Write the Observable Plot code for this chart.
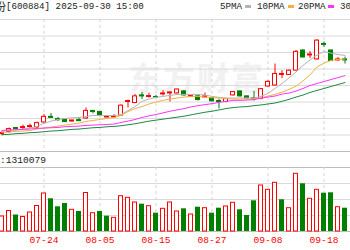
<!DOCTYPE html>
<html><head><meta charset="utf-8">
<script src="https://cdn.jsdelivr.net/npm/d3@7"></script>
<script src="https://cdn.jsdelivr.net/npm/@observablehq/plot@0.6"></script>
<style>
html,body{margin:0;padding:0;background:#fff;overflow:hidden;}
#wrap{position:relative;width:350px;height:250px;overflow:hidden;background:#fff;color:#222;}
.abs{position:absolute;white-space:nowrap;line-height:1;}
.mono{font-family:"Liberation Mono","DejaVu Sans Mono",monospace;font-size:9.2px;}
</style></head><body><div id="wrap"></div>
<script>
const stockName = "杉杉股份";
const stockCode = "600884";
const stamp = "2025-09-30 15:00";
const maNames = ["5PMA", "10PMA", "20PMA", "30PMA"];
const volumeLabel = "成交量";
const lastVolume = 1310079;
const watermark = "东方财富";

const dates = ["07-16","07-17","07-18","07-21","07-22","07-23","07-24","07-25","07-28","07-29","07-30","07-31","08-01","08-04","08-05","08-06","08-07","08-08","08-11","08-12","08-13","08-14","08-15","08-18","08-19","08-20","08-21","08-22","08-25","08-26","08-27","08-28","08-29","09-01","09-02","09-03","09-04","09-05","09-08","09-09","09-10","09-11","09-12","09-15","09-16","09-17","09-18","09-19","09-22","09-23"];
const tickDates = ["07-24","08-05","08-15","08-27","09-08","09-18"];

const open = [12.03,12.09,12.21,12.21,12.24,12.23,12.38,12.55,12.48,12.47, 12.41,12.45,12.50,12.73,12.70,12.53,12.53,12.59,13.00,12.97, 13.20,13.15,13.15,13.23,13.26,13.26,13.32,13.15,13.17,13.14, 13.12,13.03,13.00,13.20,13.32,13.17,13.11,13.09,13.47,13.50, 13.82,13.82,13.95,14.56,14.41,14.29,14.76,14.56,14.26,14.29];
const close = [12.06,12.18,12.18,12.24,12.27,12.36,12.55,12.52,12.45,12.39, 12.44,12.42,12.73,12.70,12.59,12.56,12.56,12.89,13.03,13.17, 13.17,13.18,13.14,13.26,13.29,13.38,13.20,13.18,13.06,13.17, 13.02,13.00,13.09,13.30,13.17,13.11,13.08,13.39,13.61,13.85, 13.85,13.95,14.52,14.35,14.44,14.86,14.73,14.24,14.29,14.26];
const high = [12.11,12.21,12.23,12.30,12.33,12.39,12.62,12.65,12.53,12.48, 12.45,12.53,12.82,12.74,12.71,12.58,12.62,12.91,13.06,13.23, 13.29,13.27,13.20,13.35,13.30,13.39,13.35,13.20,13.20,13.27, 13.14,13.08,13.11,13.32,13.33,13.18,13.32,13.41,13.65,14.15, 13.95,13.97,14.56,14.58,14.53,14.89,14.82,14.58,14.35,14.36];
const low = [11.98,12.06,12.17,12.17,12.20,12.20,12.36,12.50,12.41,12.38, 12.39,12.41,12.48,12.64,12.58,12.52,12.50,12.58,12.82,12.95, 13.08,13.12,13.11,13.18,13.00,13.24,13.18,13.14,13.03,13.12, 13.00,12.79,12.98,13.18,13.15,13.09,13.03,13.08,13.45,13.48, 13.71,13.80,13.94,14.33,14.32,14.27,14.65,14.23,14.24,14.15];

const ma5 = [12.11,12.14,12.15,12.18,12.21,12.26,12.35,12.42,12.47,12.50, 12.52,12.53,12.56,12.59,12.59,12.59,12.59,12.62,12.74,12.86, 13.02,13.09,13.14,13.17,13.20,13.23,13.23,13.23,13.23,13.21, 13.17,13.14,13.12,13.12,13.12,13.12,13.12,13.17,13.26,13.41, 13.56,13.73,13.91,14.11,14.27,14.42,14.53,14.48,14.44,14.41];
const ma10 = [12.08,12.09,12.11,12.12,12.14,12.18,12.21,12.24,12.27,12.30, 12.33,12.36,12.41,12.44,12.47,12.50,12.53,12.59,12.71,12.80, 12.86,12.94,13.00,13.05,13.09,13.12,13.15,13.17,13.17,13.15, 13.13,13.12,13.11,13.09,13.09,13.09,13.10,13.12,13.18,13.23, 13.30,13.38,13.48,13.64,13.82,14.06,14.18,14.26,14.29,14.30];
const ma20 = [12.14,12.15,12.16,12.17,12.18,12.20,12.21,12.22,12.23,12.25, 12.26,12.27,12.29,12.30,12.31,12.32,12.33,12.38,12.42,12.47, 12.53,12.58,12.62,12.67,12.72,12.76,12.80,12.85,12.89,12.92, 12.95,12.99,13.02,13.05,13.05,13.06,13.07,13.12,13.15,13.18, 13.24,13.27,13.33,13.41,13.50,13.56,13.62,13.68,13.74,13.80];
const ma30 = [12.01,12.02,12.04,12.05,12.07,12.08,12.10,12.12,12.13,12.15, 12.17,12.18,12.20,12.22,12.23,12.25,12.26,12.28,12.31,12.34, 12.38,12.42,12.45,12.48,12.51,12.54,12.57,12.61,12.65,12.69, 12.72,12.76,12.80,12.83,12.85,12.86,12.89,12.91,12.94,12.97, 13.02,13.08,13.15,13.21,13.29,13.35,13.41,13.47,13.53,13.59];

// volume in 10k lots
const volume = [46.9,64.1,51.6,45.3,59.4,79.7,118.8,102.2,77.2,87.5, 67.8,62.5,120.3,57.2,62.5,47.8,42.8,110.3,105.3,90.6, 85.3,79.1,57.2,70.9,90.6,62.5,70.9,53.1,75.9,72.8, 57.2,72.8,78.1,89.7,67.8,50.0,95.9,143.8,130.3,152.2, 99.1,72.8,180.3,149.1,102.2,130.3,119.7,120.9,75.9,72.8];
const volumeUp = [1,1,0,1,1,1,1,0,0,0, 1,0,1,1,0,0,1,1,1,1, 0,1,0,1,1,1,0,1,0,1, 0,0,1,1,0,0,0,1,1,1, 0,1,1,0,1,1,0,0,1,0];

const priceGrid = [12, 12.5, 13, 13.5, 14, 14.5, 15, 15.5];
const priceBottom = 11.5;
const volGrid = [50, 100, 150];
const volTop = 200;

const UP = "#ff0000", DOWN = "#008000";
const maColors = ["#b4b4b4", "#f5b041", "#ff33ff", "#1d8a45"];

const rows = dates.map((d, i) => ({date: d, open: open[i], close: close[i], high: high[i], low: low[i], up: close[i] >= open[i]}));
const vrows = dates.map((d, i) => ({date: d, vol: volume[i], up: volumeUp[i] === 1}));
const mas = [ma5, ma10, ma20, ma30];

const wrap = document.getElementById("wrap");
function addDiv(text, cls, style) {
  const d = document.createElement("div");
  d.className = "abs " + (cls || "");
  d.textContent = text;
  Object.assign(d.style, style);
  wrap.appendChild(d);
  return d;
}

// watermark (behind the charts)
addDiv(watermark, "", {left: "129px", top: "60px", fontFamily: "'Noto Sans CJK SC'", fontWeight: "700", fontSize: "32px", color: "#f1f1f1", letterSpacing: "2px"});

const xScale = {type: "band", domain: dates, range: [-2, 348], paddingInner: 0.3, paddingOuter: 0.15, align: 0.5};

const price = Plot.plot({
  width: 350, height: 133, marginTop: 0, marginBottom: 1, marginLeft: 0, marginRight: 0,
  style: {background: "transparent", overflow: "visible"},
  x: {...xScale, axis: null},
  y: {domain: [11.5, 15.5], axis: null},
  marks: [
    Plot.ruleY(priceGrid, {stroke: "#dadada"}),
    Plot.ruleY([priceBottom], {stroke: "#bdbdbd"}),
    Plot.ruleX(tickDates, {x: d => d, stroke: "#d4d4d4", strokeDasharray: "3,3"}),
    Plot.ruleX(rows, {filter: d => d.up, x: "date", y1: "low", y2: "high", stroke: UP}),
    Plot.ruleX(rows, {filter: d => !d.up, x: "date", y1: "low", y2: "high", stroke: DOWN}),
    Plot.barY(rows, {filter: d => d.up, x: "date", y1: "open", y2: "close", fill: "#fff", stroke: UP, insetLeft: 0.5, insetRight: 0.5}),
    Plot.barY(rows, {filter: d => !d.up, x: "date", y1: "open", y2: "close", fill: DOWN, stroke: DOWN, insetLeft: 0.5, insetRight: 0.5}),
    ...mas.map((m, k) => Plot.line(rows, {x: "date", y: (d, i) => m[i], stroke: maColors[k], strokeWidth: 1}))
  ]
});
price.style.position = "absolute"; price.style.left = "0px"; price.style.top = "19px";
wrap.appendChild(price);

const vol = Plot.plot({
  width: 350, height: 84, marginTop: 1, marginBottom: 19, marginLeft: 0, marginRight: 0,
  style: {background: "transparent", overflow: "visible"},
  x: {...xScale, axis: null},
  y: {domain: [0, 200], axis: null},
  marks: [
    Plot.ruleY(volGrid, {stroke: "#dadada"}),
    Plot.ruleY([volTop, 0], {stroke: "#bdbdbd"}),
    Plot.ruleX(tickDates, {x: d => d, stroke: "#d4d4d4", strokeDasharray: "3,3"}),
    Plot.barY(vrows, {filter: d => d.up, x: "date", y: "vol", fill: "#fff", stroke: UP, insetLeft: 0.5, insetRight: 0.5}),
    Plot.barY(vrows, {filter: d => !d.up, x: "date", y: "vol", fill: DOWN}),
    Plot.axisX({ticks: tickDates, tickSize: 0, tickPadding: 5, color: UP, fontSize: 9.6, fontFamily: "Liberation Mono", label: null})
  ]
});
vol.style.position = "absolute"; vol.style.left = "0px"; vol.style.top = "166px";
wrap.appendChild(vol);

// header line
addDiv(stockName, "", {right: "344px", top: "1px", fontFamily: "'Noto Sans CJK SC'", fontSize: "11px"});
addDiv(`[${stockCode}] ${stamp}`, "mono", {left: "6px", top: "2px"});
const legendX = [220, 257, 298, 340];
const swatchX = [245, 287.5, 328, 370];
maNames.forEach((n, k) => {
  addDiv(n, "mono", {left: legendX[k] + "px", top: "2px"});
  addDiv("", "", {left: swatchX[k] + "px", top: "5px", width: "6px", height: "3px", background: maColors[k]});
});
// volume header
addDiv(volumeLabel, "", {right: "350px", top: "155px", fontFamily: "'Noto Sans CJK SC'", fontSize: "11px"});
addDiv(":" + lastVolume, "mono", {left: "0px", top: "156px", fontSize: "9.6px"});
</script></body></html>
